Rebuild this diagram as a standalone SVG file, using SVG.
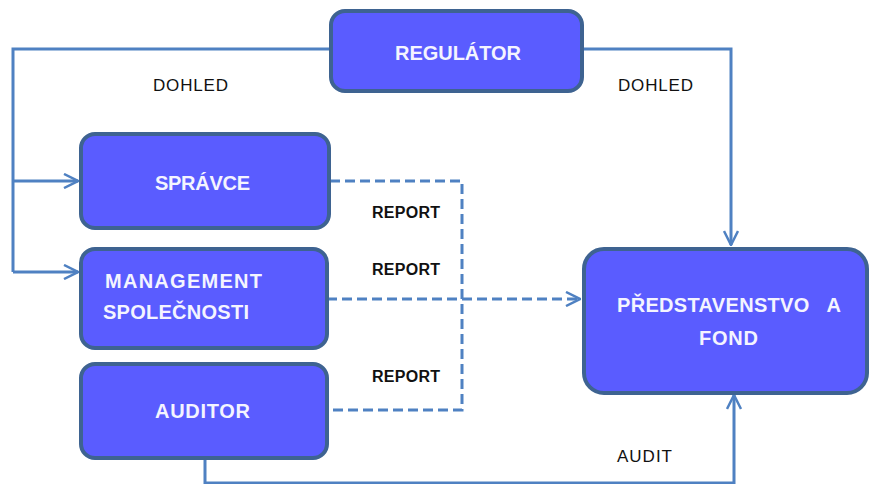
<svg xmlns="http://www.w3.org/2000/svg" width="869" height="484" viewBox="0 0 869 484">
<defs>
<style>
.box{fill:#5a5cff;stroke:#3e6391;stroke-width:4}
.bt{font-family:"Liberation Sans",Arial,sans-serif;font-weight:bold;font-size:20px;fill:#f4f4ff}
.lb{font-family:"Liberation Sans",Arial,sans-serif;font-size:17px;fill:#111111}
.lbb{font-weight:bold;font-size:16px}
.ln{fill:none;stroke:#4f81c2;stroke-width:3}
.ds{fill:none;stroke:#4f81c2;stroke-width:3;stroke-dasharray:10,5}
</style>
<marker id="ahb" viewBox="0 0 16 16" refX="15" refY="8" markerWidth="16" markerHeight="16" markerUnits="userSpaceOnUse" orient="auto">
<path d="M1,1 L15,8 L1,15" fill="none" stroke="#4f81c2" stroke-width="2.5"/>
</marker>
</defs>
<rect width="869" height="484" fill="#ffffff"/>
<g id="connectors">
<path class="ln" d="M330,49 H13 V272"/>
<path class="ln" d="M13,181 H78" marker-end="url(#ahb)"/>
<path class="ln" d="M13,272 H78" marker-end="url(#ahb)"/>
<path class="ln" d="M583,49 H731 V245" marker-end="url(#ahb)"/>
<path class="ds" d="M330,181 H462 V410 H327"/>
<path class="ds" d="M327,299 H580" marker-end="url(#ahb)"/>
<path class="ln" d="M205,458 V483 H734 V395" marker-end="url(#ahb)"/>
</g>
<g id="labels">
<text class="lb" x="153" y="91" textLength="75" lengthAdjust="spacing">DOHLED</text>
<text class="lb" x="618" y="91" textLength="75" lengthAdjust="spacing">DOHLED</text>
<text class="lb lbb" x="372" y="218" textLength="68" lengthAdjust="spacing">REPORT</text>
<text class="lb lbb" x="372" y="275" textLength="68" lengthAdjust="spacing">REPORT</text>
<text class="lb lbb" x="372" y="382" textLength="68" lengthAdjust="spacing">REPORT</text>
<text class="lb" x="617" y="462" textLength="55" lengthAdjust="spacing">AUDIT</text>
</g>
<g id="regulator">
<rect class="box" x="331" y="11" width="251" height="80" rx="14"/>
<text class="bt" x="395" y="60" textLength="126" lengthAdjust="spacing">REGULÁTOR</text>
</g>
<g id="spravce">
<rect class="box" x="81" y="134" width="248" height="94" rx="14"/>
<text class="bt" x="155" y="190" textLength="95" lengthAdjust="spacing">SPRÁVCE</text>
</g>
<g id="management">
<rect class="box" x="81" y="249" width="246" height="99" rx="14"/>
<text class="bt" x="105" y="288" textLength="157" lengthAdjust="spacing">MANAGEMENT</text>
<text class="bt" x="103" y="319" textLength="146" lengthAdjust="spacing">SPOLEČNOSTI</text>
</g>
<g id="auditor">
<rect class="box" x="81" y="364" width="246" height="94" rx="14"/>
<text class="bt" x="155" y="418" textLength="95" lengthAdjust="spacing">AUDITOR</text>
</g>
<g id="predstavenstvo">
<rect class="box" x="584" y="249" width="283" height="144" rx="20"/>
<text class="bt" x="617" y="312" textLength="224" lengthAdjust="spacing" style="white-space:pre" xml:space="preserve">PŘEDSTAVENSTVO   A</text>
<text class="bt" x="699" y="345" textLength="59" lengthAdjust="spacing">FOND</text>
</g>
</svg>
